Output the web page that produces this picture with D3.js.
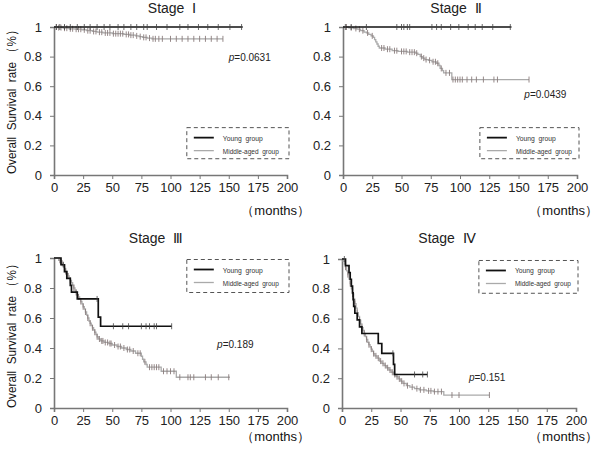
<!DOCTYPE html>
<html><head><meta charset="utf-8">
<script src="https://cdn.jsdelivr.net/npm/d3@7"></script>
<style>body{margin:0;background:#fff}svg{display:block}text{font-family:"Liberation Sans",Arial,sans-serif;white-space:pre}</style>
</head><body>
<svg id="c" width="600" height="449"></svg>
<script>
// ---- DATA ----
const xTicks = [0,25,50,75,100,125,150,175,200];
const yTicks = [0,0.2,0.4,0.6,0.8,1];
const yTickLabels = ["0","0.2","0.4","0.6","0.8","1"];
const titles = ["Stage  Ⅰ","Stage  Ⅱ","Stage  Ⅲ","Stage  Ⅳ"];
const pValues = ["0.0631","0.0439","0.189","0.151"];
const legendLabels = ["Young  group","Middle-aged  group"];

// Stage I
const s1YoungT = [0, 162];
const s1YoungS = [1, 1];
const s1YoungC = [2,5,9,14,20,26,31,37,43,48,55,60,66,71,77,80,88,97,108,115,124,132,141,151,161];
const s1MidT = [0,3,8,13,18,24,28,33,37,42,50,60,65,70,73,76,80,84,145];
const s1MidS = [1,0.996,0.992,0.988,0.985,0.981,0.975,0.97,0.965,0.96,0.955,0.95,0.945,0.94,0.935,0.93,0.925,0.92,0.92];
const s1MidC = [2,4,6,9,11,14,16,19,21,23,26,29,31,34,36,39,41,44,46,48,51,53,55,57,59,62,64,66,68,71,74,77,79,82,85,87,90,93,100,105,110,115,120,125,130,135,140,145];

// Stage II
const s2YoungT = [0, 144];
const s2YoungS = [1, 1];
const s2YoungC = [2,7,20,46,50,52,55,57,76,80,84,92,99,107,113,119,128,143];
const s2MidT = [0,5,9,12,15,18,20,22,24,26,27,28,29,30,31,36,42,47,55,62,64,66,68,70,73,76,80,82,83,85,86,93,159];
const s2MidS = [1,0.995,0.99,0.985,0.975,0.965,0.96,0.95,0.94,0.93,0.915,0.9,0.885,0.87,0.858,0.85,0.84,0.835,0.83,0.823,0.815,0.8,0.79,0.78,0.775,0.765,0.755,0.74,0.72,0.705,0.69,0.645,0.645];
const s2MidC = [3,7,11,14,17,21,25,33,35,38,40,44,46,50,52,54,57,59,61,63,67,69,71,74,77,79,81,84,88,91,94,96,98,100,102,106,110,114,120,129,132,159];

// Stage III
const s3YoungT = [0,6,9,11,14,15,20,38,40,101];
const s3YoungS = [1,0.955,0.909,0.864,0.818,0.773,0.727,0.606,0.545,0.545];
const s3YoungC = [8,37,51,59,64,75,79,82,86,88,101];
const s3MidT = [0,4,6,8,9,10,11,12,13,14,15,16,17,18,19,20,21,22,23,24,25,26,27,28,29,30,31,32,33,34,35,36,37,38,40,43,47,50,54,58,62,66,70,75,76,77,79,80,92,105,151];
const s3MidS = [1,0.985,0.965,0.945,0.93,0.91,0.895,0.88,0.865,0.85,0.835,0.82,0.8,0.785,0.77,0.755,0.74,0.725,0.71,0.695,0.675,0.66,0.64,0.62,0.6,0.58,0.565,0.55,0.535,0.52,0.505,0.49,0.475,0.46,0.447,0.437,0.43,0.42,0.41,0.4,0.39,0.38,0.365,0.345,0.325,0.308,0.29,0.272,0.245,0.205,0.205];
const s3MidC = [5,7,10,12,14,17,19,21,23,25,27,29,31,33,35,37,39,41,42,44,46,48,49,52,55,57,60,63,65,68,72,74,78,82,84,86,88,90,94,97,100,103,108,115,117,120,130,135,141,150];

// Stage IV
const s4YoungT = [0,3,6,7,8,9,9.5,10,11,13,15,17,31,34,44,45,73];
const s4YoungS = [1,0.955,0.909,0.864,0.818,0.773,0.727,0.682,0.636,0.591,0.545,0.5,0.433,0.367,0.293,0.225,0.225];
const s4YoungC = [2,43.5,62,69,73];
const s4MidT = [0,1,2,3,4,5,6,7,8,9,10,11,12,13,14,15,16,17,18,19,20,21,22,23,24,25,26,27,28,30,32,34,36,38,40,42,44,46,48,50,52,55,58,62,66,72,78,87,126];
const s4MidS = [1,0.985,0.965,0.945,0.92,0.895,0.865,0.835,0.8,0.765,0.73,0.7,0.67,0.64,0.615,0.59,0.565,0.54,0.52,0.5,0.48,0.46,0.44,0.425,0.41,0.395,0.38,0.365,0.35,0.335,0.315,0.3,0.285,0.27,0.255,0.24,0.225,0.21,0.195,0.18,0.165,0.15,0.14,0.13,0.122,0.115,0.11,0.087,0.087];
const s4MidC = [3,5,7,9,11,13,15,17,19,21,23,25,27,29,31,33,35,37,39,41,43,45,47,49,51,53,56,60,64,67,70,74,76,79,82,85,94,100,126];

// ---- LAYOUT ----
const panels = [
  {x0:54, x1:287, yTop:27, yBot:175, title:[172,13], p:[150,0.8], leg:[114,0.32,0.11], ylab:99, mon:[310,215],
   yT:s1YoungT, yS:s1YoungS, yC:s1YoungC, mT:s1MidT, mS:s1MidS, mC:s1MidC},
  {x0:343, x1:577, yTop:27, yBot:175, title:[456,13], p:[155,0.55], leg:[117,0.32,0.11], ylab:null, mon:[598,215],
   yT:s2YoungT, yS:s2YoungS, yC:s2YoungC, mT:s2MidT, mS:s2MidS, mC:s2MidC},
  {x0:54, x1:287, yTop:258, yBot:408, title:[156,243], p:[140,0.43], leg:[114,0.99,0.77], ylab:333, mon:[310,441],
   yT:s3YoungT, yS:s3YoungS, yC:s3YoungC, mT:s3MidT, mS:s3MidS, mC:s3MidC},
  {x0:342, x1:576, yTop:259, yBot:408, title:[447,243], p:[108.5,0.21], leg:[117,0.99,0.77], ylab:null, mon:[598,441],
   yT:s4YoungT, yS:s4YoungS, yC:s4YoungC, mT:s4MidT, mS:s4MidS, mC:s4MidC}
];

const svg = d3.select("#c");
const axisCol = "#777";
const midLine = "#aaa", midTick = "#8a7c7c";
const legendLens = [40, 56];

function survAt(T,S,t){ let v=S[0]; for(let i=0;i<T.length;i++){ if(T[i]<=t) v=S[i]; } return v; }

panels.forEach((p,i)=>{
  const x = d3.scaleLinear().domain([0,200]).range([p.x0,p.x1]);
  const y = d3.scaleLinear().domain([0,1]).range([p.yBot,p.yTop]);
  const g = svg.append("g");

  // axes
  const xa = g.append("g").attr("transform",`translate(0,${p.yBot})`)
    .call(d3.axisBottom(x).tickValues(xTicks).tickSize(4).tickPadding(4).tickFormat(d3.format("d")));
  const ya = g.append("g").attr("transform",`translate(${p.x0},0)`)
    .call(d3.axisLeft(y).tickValues(yTicks).tickSize(4).tickPadding(8).tickFormat((d,k)=>yTickLabels[k]));
  [xa,ya].forEach(a=>{
    a.select(".domain").attr("stroke",axisCol).attr("stroke-width",1.6);
    a.selectAll(".tick line").attr("stroke",axisCol).attr("stroke-width",1);
    a.selectAll("text").attr("font-size",13).attr("fill","#222").attr("font-family","Liberation Sans, Arial, sans-serif");
  });

  const line = d3.line().x(d=>x(d[0])).y(d=>y(d[1])).curve(d3.curveStepAfter);

  // middle-aged
  g.append("path").datum(p.mT.map((t,k)=>[t,p.mS[k]])).attr("d",line)
    .attr("fill","none").attr("stroke",midLine).attr("stroke-width",1.3);
  g.selectAll(".mc").data(p.mC).enter().append("line")
    .attr("x1",d=>x(d)).attr("x2",d=>x(d))
    .attr("y1",d=>y(survAt(p.mT,p.mS,d))-3).attr("y2",d=>y(survAt(p.mT,p.mS,d))+3)
    .attr("stroke",midTick).attr("stroke-width",0.9);

  // young
  g.append("path").datum(p.yT.map((t,k)=>[t,p.yS[k]])).attr("d",line)
    .attr("fill","none").attr("stroke","#111").attr("stroke-width",1.7);
  g.selectAll(".yc").data(p.yC).enter().append("line")
    .attr("x1",d=>x(d)).attr("x2",d=>x(d))
    .attr("y1",d=>y(survAt(p.yT,p.yS,d))-3).attr("y2",d=>y(survAt(p.yT,p.yS,d))+3)
    .attr("stroke","#444").attr("stroke-width",0.8);

  // title
  g.append("text").attr("x",p.title[0]).attr("y",p.title[1]).attr("text-anchor","middle")
    .attr("font-size",14).attr("font-weight","normal").attr("fill","#222").text(titles[i]);

  // p value
  const pt = g.append("text").attr("x",x(p.p[0])).attr("y",y(p.p[1])+4).attr("font-size",10).attr("fill","#222")
    .attr("font-family","DejaVu Sans, sans-serif");
  pt.append("tspan").attr("font-style","italic").text("p");
  pt.append("tspan").text("="+pValues[i]);

  // legend
  const lx0 = x(p.leg[0]), lx1 = x(200)+2, ly0 = y(p.leg[1]), ly1 = y(p.leg[2]);
  g.append("rect").attr("x",lx0).attr("y",ly0).attr("width",lx1-lx0).attr("height",ly1-ly0)
    .attr("fill","#fff").attr("stroke","#555").attr("stroke-width",1).attr("stroke-dasharray","4,3");
  const rows = [{c:"#111",w:1.8},{c:midLine,w:1.3}];
  rows.forEach((r,k)=>{
    const yy = ly0 + 10 + k*13;
    g.append("line").attr("x1",lx0+7).attr("x2",lx0+27).attr("y1",yy).attr("y2",yy)
      .attr("stroke",r.c).attr("stroke-width",r.w);
    g.append("text").attr("x",lx0+36).attr("y",yy+3).attr("font-size",7.5).attr("fill","#333")
      .attr("textLength",legendLens[k]).attr("lengthAdjust","spacingAndGlyphs").text(legendLabels[k]);
  });

  // months label
  g.append("text").attr("x",p.mon[0]).attr("y",p.mon[1]).attr("text-anchor","end")
    .attr("font-size",13).attr("fill","#111").text("（months）");

  // y label
  if(p.ylab!==null){
    g.append("text").attr("transform",`translate(16,${p.ylab}) rotate(-90)`).attr("text-anchor","middle")
      .attr("font-size",13.5).attr("fill","#111")
      .attr("textLength",150).attr("lengthAdjust","spacingAndGlyphs")
      .text("Overall  Survival  rate （%）");
  }
});
</script>
</body></html>
